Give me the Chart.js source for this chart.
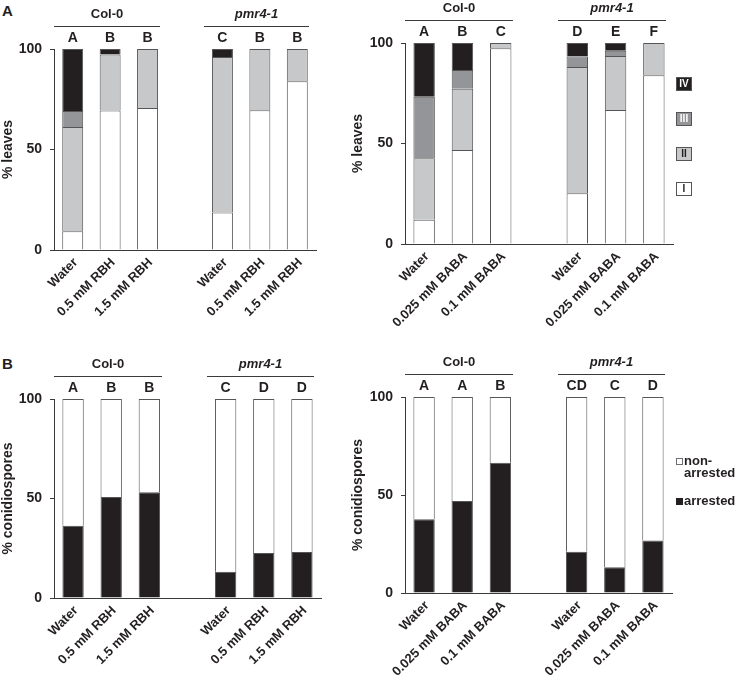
<!DOCTYPE html>
<html>
<head>
<meta charset="utf-8">
<title>Leaf colonisation and conidiospore arrest</title>
<script src="https://cdn.jsdelivr.net/npm/chart.js@4.4.1/dist/chart.umd.min.js"></script>
<style>
  body { margin: 0; background: #ffffff; }
  #figure { position: relative; width: 736px; height: 680px; overflow: hidden; font-family: 'Liberation Sans', Arial, sans-serif; color: #231f20; }
  #figure canvas { position: absolute; }
  .panel-letter { position: absolute; left: 2px; font-size: 15px; font-weight: bold; line-height: 15px; }
</style>
</head>
<body>
<div id="figure">
  <div class="panel-letter" style="top: 3px;">A</div>
  <div class="panel-letter" style="top: 356px;">B</div>
  <canvas id="leaves-rbh"></canvas>
  <canvas id="leaves-baba"></canvas>
  <canvas id="spores-rbh"></canvas>
  <canvas id="spores-baba"></canvas>
</div>
<script>
const rbhTreatments = ['Water', '0.5 mM RBH', '1.5 mM RBH', '', 'Water', '0.5 mM RBH', '1.5 mM RBH'];
const babaTreatments = ['Water', '0.025 mM BABA', '0.1 mM BABA', '', 'Water', '0.025 mM BABA', '0.1 mM BABA'];
const genotypes = ['Col-0', 'pmr4-1'];
const genotypeSpans = [[0, 2], [4, 6]];

// % leaves in each colonisation class, RBH
const rbhClassI = [9.3, 69.4, 70.7, null, 18.6, 69.5, 84.0];
const rbhClassII = [51.9, 27.9, 29.3, null, 77.4, 30.5, 16.0];
const rbhClassIII = [8.0, 0, 0, null, 0, 0, 0];
const rbhClassIV = [30.8, 2.7, 0, null, 4.0, 0, 0];

// % leaves in each colonisation class, BABA
const babaClassI = [12.1, 46.8, 97.4, null, 25.3, 66.7, 84.0];
const babaClassII = [30.6, 30.5, 2.6, null, 62.8, 26.8, 16.0];
const babaClassIII = [30.5, 9.3, 0, null, 5.2, 2.6, 0];
const babaClassIV = [26.8, 13.4, 0, null, 6.7, 3.9, 0];

// % conidiospores
const rbhArrested = [36.3, 50.7, 53.2, null, 13.2, 22.6, 23.1];
const rbhNonArrested = [63.7, 49.3, 46.8, null, 86.8, 77.4, 76.9];
const babaArrested = [37.6, 47.0, 66.4, null, 21.0, 13.1, 26.8];
const babaNonArrested = [62.4, 53.0, 33.6, null, 79.0, 86.9, 73.2];

// significance letters above bars
const rbhLeavesLetters = ['A', 'B', 'B', '', 'C', 'B', 'B'];
const babaLeavesLetters = ['A', 'B', 'C', '', 'D', 'E', 'F'];
const rbhSporesLetters = ['A', 'B', 'B', '', 'C', 'D', 'D'];
const babaSporesLetters = ['A', 'A', 'B', '', 'CD', 'C', 'D'];

const yTicks = [0, 50, 100];
const classNames = ['I', 'II', 'III', 'IV'];
const sporeClassNames = ['arrested', 'non-arrested'];

const INK = '#231f20';
const EDGE = '#555555';
const FONT = "'Liberation Sans', Arial, sans-serif";
const classColors = ['#ffffff', '#c7c8ca', '#939598', '#231f20'];
const classTextColors = [INK, INK, '#ffffff', '#ffffff'];
const sporeColors = ['#231f20', '#ffffff'];
const sporeLegendLines = [['arrested'], ['non-', 'arrested']];

const drawClassLegend = (chart) => {
    const { ctx, chartArea } = chart;
    const left = chartArea.right + 3;
    chart.data.datasets.slice().reverse().forEach((dataset, k) => {
        const centerY = chartArea.top + 41 + k * 35;
        const classIndex = classNames.indexOf(dataset.label);
        ctx.fillStyle = dataset.backgroundColor;
        ctx.fillRect(left, Math.round(centerY - 7), 16, 14);
        ctx.strokeStyle = EDGE;
        ctx.lineWidth = 1;
        ctx.strokeRect(left + 0.5, Math.round(centerY - 7) + 0.5, 15, 13);
        ctx.fillStyle = classTextColors[classIndex];
        ctx.font = `bold 10px ${FONT}`;
        ctx.textAlign = 'center';
        ctx.fillText(dataset.label, left + 8, centerY + 0.5);
    });
};

const drawSporeLegend = (chart) => {
    const { ctx, chartArea } = chart;
    const left = chartArea.right + 4;
    const rows = [{ index: 1, y: chartArea.top + 64 }, { index: 0, y: chartArea.top + 104 }];
    rows.forEach(({ index, y }) => {
        const dataset = chart.data.datasets[index];
        ctx.fillStyle = dataset.backgroundColor;
        ctx.fillRect(left, Math.round(y - 3), 7, 7);
        ctx.strokeStyle = index === 0 ? INK : '#6d6e71';
        ctx.strokeRect(left + 0.5, Math.round(y - 3) + 0.5, 6, 6);
        ctx.fillStyle = INK;
        ctx.font = `bold 13px ${FONT}`;
        ctx.textAlign = 'left';
        sporeLegendLines[index].forEach((line, n) => {
            ctx.fillText(line, left + 8, y + 0.5 + n * 12);
        });
    });
};

const decorPlugin = {
    id: 'decor',
    afterDraw(chart, args, opts) {
        const { ctx, chartArea } = chart;
        const xScale = chart.scales.x;
        const step = xScale.getPixelForTick(1) - xScale.getPixelForTick(0);
        ctx.save();
        ctx.textBaseline = 'middle';
        ctx.textAlign = 'center';
        ctx.fillStyle = INK;

        ctx.font = `bold 14px ${FONT}`;
        opts.letters.forEach((letter, i) => {
            if (letter) ctx.fillText(letter, xScale.getPixelForTick(i), chartArea.top - 11);
        });

        genotypes.forEach((name, g) => {
            const [first, last] = genotypeSpans[g];
            const x0 = Math.round(xScale.getPixelForTick(first) - step * 0.5);
            const x1 = Math.round(xScale.getPixelForTick(last) + step * 0.32);
            const lineY = Math.round(chartArea.top - 23) + 0.5;
            ctx.strokeStyle = '#3a3a3a';
            ctx.lineWidth = 1;
            ctx.beginPath();
            ctx.moveTo(x0, lineY);
            ctx.lineTo(x1, lineY);
            ctx.stroke();
            ctx.font = `${g === 1 ? 'italic ' : ''}bold 13px ${FONT}`;
            ctx.fillText(name, (x0 + x1) / 2, chartArea.top - 35);
        });

        if (opts.legend === 'classes') drawClassLegend(chart);
        if (opts.legend === 'spores') drawSporeLegend(chart);
        ctx.restore();
    }
};

// canvas boxes and plot areas, page pixels
const frames = {
    'leaves-rbh': { left: 0, top: 0, width: 350, height: 340, plotLeft: 54, plotRight: 316, plotTop: 49, plotBottom: 250 },
    'leaves-baba': { left: 350, top: 0, width: 386, height: 340, plotLeft: 405, plotRight: 673, plotTop: 43, plotBottom: 244 },
    'spores-rbh': { left: 0, top: 340, width: 350, height: 340, plotLeft: 54, plotRight: 321, plotTop: 399, plotBottom: 598 },
    'spores-baba': { left: 350, top: 340, width: 386, height: 340, plotLeft: 405, plotRight: 672, plotTop: 397, plotBottom: 593 },
};

const makeChart = (id, labels, datasets, letters, yTitle, legend) => {
    const frame = frames[id];
    const canvas = document.getElementById(id);
    canvas.width = frame.width;
    canvas.height = frame.height;
    canvas.style.left = frame.left + 'px';
    canvas.style.top = frame.top + 'px';

    const yWidth = frame.plotLeft - frame.left;
    const xHeight = frame.top + frame.height - frame.plotBottom;
    const tickFont = { family: FONT, size: 14, weight: 'bold' };

    return new Chart(canvas.getContext('2d'), {
        type: 'bar',
        data: { labels, datasets },
        options: {
            responsive: false,
            animation: false,
            devicePixelRatio: 1,
            layout: {
                padding: {
                    left: 0,
                    top: frame.plotTop - frame.top,
                    right: frame.left + frame.width - frame.plotRight,
                    bottom: 0
                }
            },
            datasets: {
                bar: {
                    categoryPercentage: 1,
                    barPercentage: 0.56,
                    borderWidth: 1,
                    borderColor: EDGE
                }
            },
            scales: {
                x: {
                    stacked: true,
                    grid: { display: false, drawTicks: false },
                    border: { color: '#3a3a3a', width: 1 },
                    ticks: {
                        autoSkip: false,
                        minRotation: 45,
                        maxRotation: 45,
                        padding: 5,
                        labelOffset: 3,
                        color: INK,
                        font: { family: FONT, size: 13, weight: 'bold' }
                    },
                    afterFit: (scale) => { scale.height = xHeight; }
                },
                y: {
                    stacked: true,
                    min: 0,
                    max: 100,
                    afterBuildTicks: (scale) => { scale.ticks = yTicks.map(value => ({ value })); },
                    grid: { drawOnChartArea: false, drawTicks: true, tickLength: 4, color: '#3a3a3a' },
                    border: { color: '#3a3a3a', width: 1 },
                    ticks: { padding: 8, color: INK, font: tickFont },
                    title: { display: true, text: yTitle, color: INK, font: tickFont, padding: 0 },
                    afterFit: (scale) => { scale.width = yWidth; }
                }
            },
            plugins: {
                legend: { display: false },
                tooltip: { enabled: false },
                decor: { letters, legend }
            }
        },
        plugins: [decorPlugin]
    });
};

const classDatasets = (series) => series.map((data, k) => ({
    label: classNames[k],
    data,
    backgroundColor: classColors[k]
}));

const sporeDatasets = (series) => series.map((data, k) => ({
    label: sporeClassNames[k],
    data,
    backgroundColor: sporeColors[k]
}));

makeChart('leaves-rbh', rbhTreatments,
    classDatasets([rbhClassI, rbhClassII, rbhClassIII, rbhClassIV]),
    rbhLeavesLetters, '% leaves', null);

makeChart('leaves-baba', babaTreatments,
    classDatasets([babaClassI, babaClassII, babaClassIII, babaClassIV]),
    babaLeavesLetters, '% leaves', 'classes');

makeChart('spores-rbh', rbhTreatments,
    sporeDatasets([rbhArrested, rbhNonArrested]),
    rbhSporesLetters, '% conidiospores', null);

makeChart('spores-baba', babaTreatments,
    sporeDatasets([babaArrested, babaNonArrested]),
    babaSporesLetters, '% conidiospores', 'spores');
</script>
</body>
</html>
